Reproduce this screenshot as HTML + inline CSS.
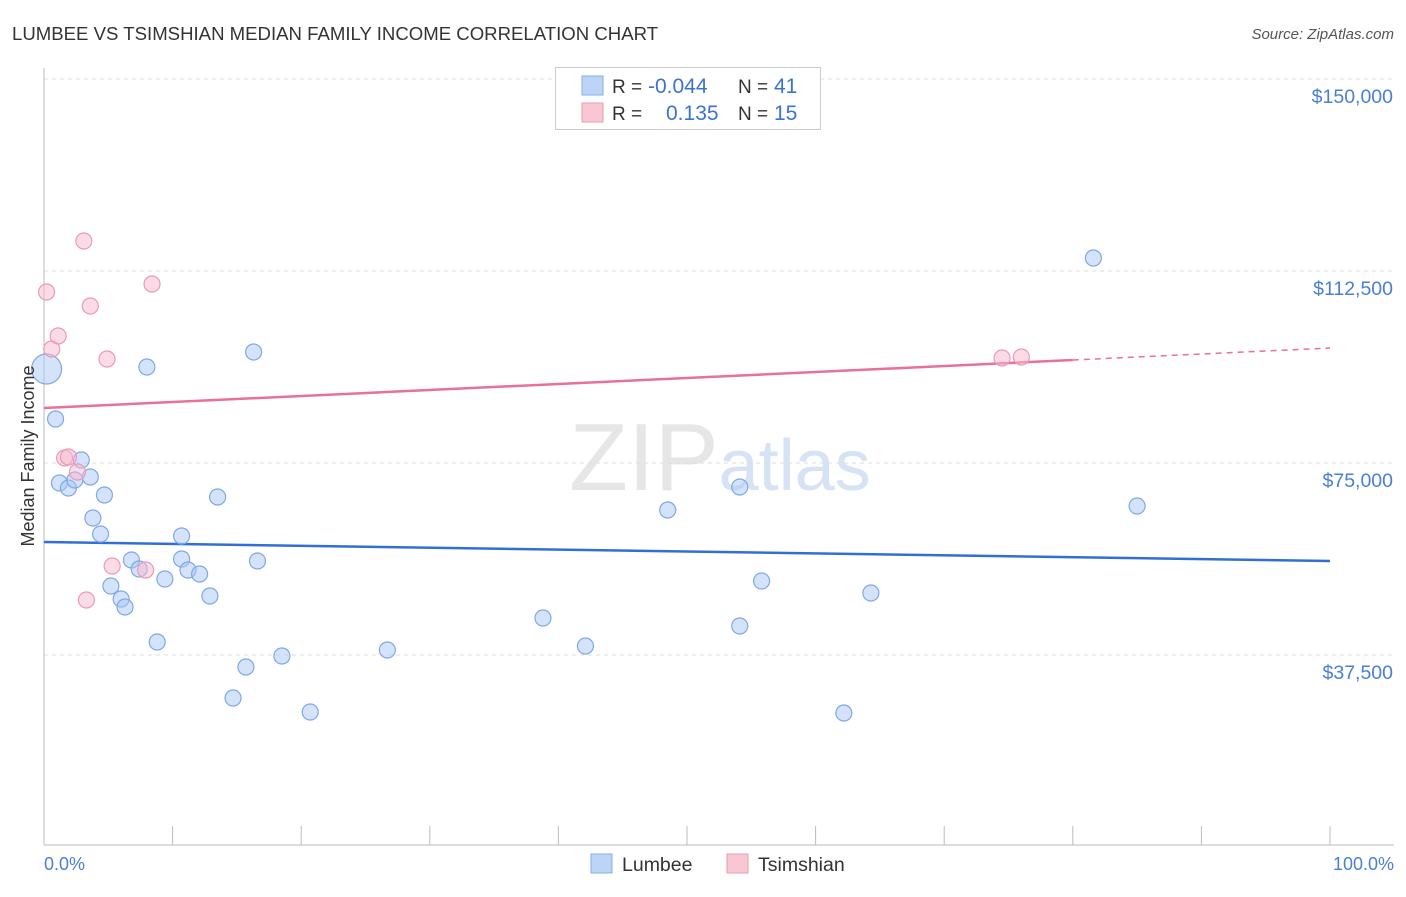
<!DOCTYPE html>
<html><head><meta charset="utf-8"><style>
body{margin:0;background:#fff;font-family:"Liberation Sans",sans-serif;}
svg text{font-family:"Liberation Sans",sans-serif;}
</style></head><body>
<svg id="c" width="1406" height="892">
<text x="12" y="40" font-size="18.6" fill="#333">LUMBEE VS TSIMSHIAN MEDIAN FAMILY INCOME CORRELATION CHART</text>
<text x="1394" y="39" font-size="15" fill="#555" font-style="italic" text-anchor="end">Source: ZipAtlas.com</text>
<text x="720" y="490" font-size="96" fill="#e6e6e6" text-anchor="middle" font-family="Liberation Serif">ZIP<tspan fill="#d5e3f5" font-family="Liberation Sans" font-size="72">atlas</tspan></text>
<g id="grid"></g><g id="axes"></g><g id="lines"></g><g id="pts"></g>
<text transform="translate(34,456) rotate(-90)" font-size="18" fill="#333" text-anchor="middle">Median Family Income</text>
<text x="44" y="870" font-size="18" fill="#4a7fd4">0.0%</text>
<text x="1394" y="870" font-size="18" fill="#4a7fd4" text-anchor="end">100.0%</text>
<g>
<rect x="555.5" y="67.5" width="265" height="62" fill="#fff" stroke="#ccc"/>
<rect x="582" y="76" width="21" height="19" fill="#bcd5f7" stroke="#86aee6"/>
<text x="612" y="93" font-size="19" fill="#333">R = <tspan x="648" fill="#3b73d0" font-size="21">-0.044</tspan><tspan x="738">N = </tspan><tspan x="774" fill="#3b73d0" font-size="21">41</tspan></text>
<rect x="582" y="103" width="21" height="19" fill="#f9c6d4" stroke="#eb9bb2"/>
<text x="612" y="120" font-size="19" fill="#333">R = <tspan x="666" fill="#3b73d0" font-size="21">0.135</tspan><tspan x="738">N = </tspan><tspan x="774" fill="#3b73d0" font-size="21">15</tspan></text>
</g>
<g><rect x="591" y="854" width="21" height="19" fill="#bcd5f7" stroke="#86aee6"/><text x="622" y="871" font-size="19.5" fill="#333">Lumbee</text></g>
<g><rect x="727" y="854" width="21" height="19" fill="#f9c6d4" stroke="#eb9bb2"/><text x="758" y="871" font-size="19.5" fill="#333">Tsimshian</text></g>
</svg>
<script>
const yTicks=[37500,75000,112500,150000];
const yTickLabels=["$37,500","$75,000","$112,500","$150,000"];
const xTicks=[0,10,20,30,40,50,60,70,80,90,100];
const lumbeeX=[0.2,0.9,1.2,1.9,2.4,2.9,3.6,4.7,3.8,4.4,5.2,6.0,6.3,6.8,7.4,8.0,8.8,9.4,10.7,10.7,11.2,12.1,12.9,13.5,14.7,15.7,16.3,16.6,18.5,20.7,26.7,38.8,42.1,48.5,54.1,54.1,55.8,62.2,64.3,81.6,85.0];
const lumbeeY=[93359,83594,71094,70117,71680,75586,72266,68750,64258,61133,50977,48438,46875,56055,54297,93750,40039,52344,56250,60742,54102,53320,49023,68359,29102,35156,96680,55859,37305,26367,38477,44727,39258,65820,70313,43164,51953,26172,49609,115039,66602];
const tsimX=[0.2,0.6,1.1,1.6,1.9,2.6,3.1,3.3,3.6,4.9,5.3,7.9,8.4,74.5,76.0];
const tsimY=[108398,97266,99805,75977,76172,73242,118359,48242,105664,95313,54883,54102,109961,95508,95703];
const lumbeeTrend=[59570,55859];
const tsimTrend=[85742,97461];
const X=p=>44+p*12.86, Y=v=>847-v/195.3125;
const NS="http://www.w3.org/2000/svg";
function mk(parent,tag,attrs){const e=document.createElementNS(NS,tag);for(const k in attrs)e.setAttribute(k,attrs[k]);document.getElementById(parent).appendChild(e);return e;}
let g=mk('grid','line',{x1:44,x2:1394,y1:79,y2:79,stroke:'#ddd','stroke-dasharray':'4,4'});


yTicks.forEach((t,i)=>{
 const l=mk('grid','line',{x1:44,x2:1394,y1:Y(t),y2:Y(t),stroke:'#ddd','stroke-dasharray':'4,4'});
 
 
 const tx=mk('grid','text',{x:1393,y:Y(t)+24,'font-size':19.5,fill:'#4a7fd4','text-anchor':'end'});
 tx.textContent=yTickLabels[i];
 
 
});
let ax=mk('axes','line',{x1:44,x2:1394,y1:845,y2:845,stroke:'#bbb'});


let ay=mk('axes','line',{x1:44,x2:44,y1:68,y2:845,stroke:'#bbb'});


xTicks.forEach(t=>{const l=mk('axes','line',{x1:X(t),x2:X(t),y1:826,y2:845,stroke:'#bbb'});
 
 });
let bl=mk('lines','line',{x1:X(0),x2:X(100),y1:Y(lumbeeTrend[0]),y2:Y(lumbeeTrend[1]),stroke:'#2f6fd6','stroke-width':2.5});


const pAt=p=>tsimTrend[0]+(tsimTrend[1]-tsimTrend[0])*p/100;
let pl=mk('lines','line',{x1:X(0),x2:X(80),y1:Y(pAt(0)),y2:Y(pAt(80)),stroke:'#e8709a','stroke-width':2.5});


let pd=mk('lines','line',{x1:X(80),x2:X(100),y1:Y(pAt(80)),y2:Y(pAt(100)),stroke:'#e8709a','stroke-width':1.5,'stroke-dasharray':'6,5'});


lumbeeX.forEach((x,i)=>{const c=mk('pts','circle',{cx:X(x),cy:Y(lumbeeY[i]),r:i==0?15:8,fill:'rgba(170,200,245,0.5)',stroke:'#7ea8e6','stroke-width':1.2});
 
 });
tsimX.forEach((x,i)=>{const c=mk('pts','circle',{cx:X(x),cy:Y(tsimY[i]),r:8,fill:'rgba(248,185,205,0.5)',stroke:'#ec9ab4','stroke-width':1.2});
 
 });
</script>
</body></html>
